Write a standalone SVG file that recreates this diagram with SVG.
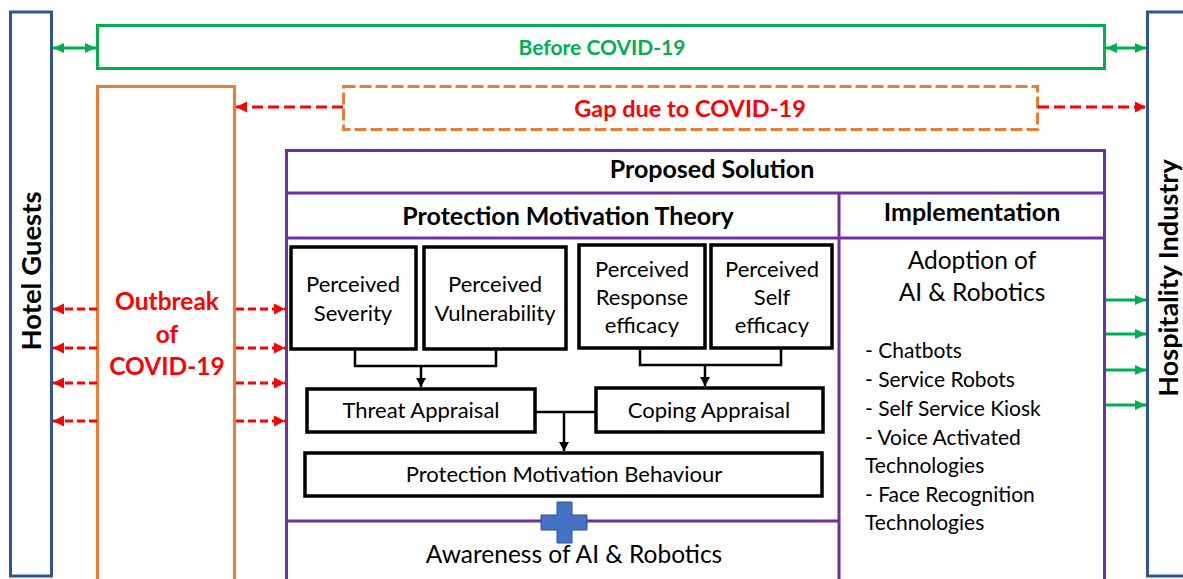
<svg xmlns="http://www.w3.org/2000/svg" width="1183" height="579" viewBox="0 0 1183 579">
  <style>
    text { font-family: Lato, "Liberation Sans", sans-serif; fill: #000; }
    .b { font-weight: bold; }
    .red { fill: #FF0000; }
    .grn { fill: #00B050; }
    .c { text-anchor: middle; }
    .box { fill: #fff; stroke: #000; stroke-width: 3.5; }
    .pur { fill: none; stroke: #7030A0; stroke-width: 3; }
    .redl { stroke: #FF0000; stroke-width: 3; fill: none; }
    .grnl { stroke: #00B050; stroke-width: 3; fill: none; }
    .blk { stroke: #000; stroke-width: 2.5; fill: none; }
    .t22 { font-size: 22px; }
    .t21 { font-size: 21px; }
    .hd { font-size: 25px; font-weight: bold; }
  </style>
  <defs>
    <marker id="ahRed" markerUnits="userSpaceOnUse" markerWidth="12" markerHeight="12" refX="11" refY="6" orient="auto-start-reverse">
      <path d="M0,0.5 L11,6 L0,11.5 Z" fill="#FF0000"/>
    </marker>
    <marker id="ahGrn" markerUnits="userSpaceOnUse" markerWidth="12" markerHeight="12" refX="11" refY="6" orient="auto-start-reverse">
      <path d="M0,1 L11,6 L0,11 Z" fill="#00B050"/>
    </marker>
    <marker id="ahBlk" markerUnits="userSpaceOnUse" markerWidth="10" markerHeight="10" refX="9" refY="5" orient="auto">
      <path d="M0,0 L9,5 L0,10 Z" fill="#000"/>
    </marker>
  </defs>

  <!-- side actors -->
  <g id="hotel-guests">
    <rect x="10.5" y="12" width="41" height="564" fill="#fff" stroke="#2F5597" stroke-width="3"/>
    <text class="b c" font-size="27.5" transform="translate(40.5,271) rotate(-90)">Hotel Guests</text>
  </g>
  <g id="hospitality-industry">
    <rect x="1147.5" y="12" width="50" height="564" fill="#fff" stroke="#2F5597" stroke-width="3"/>
    <text class="b c" font-size="27" transform="translate(1178,278) rotate(-90)">Hospitality Industry</text>
  </g>

  <!-- top band -->
  <g id="before-covid">
    <rect x="97.5" y="25.5" width="1007" height="43" fill="#fff" stroke="#00B050" stroke-width="3"/>
    <text class="b c grn" font-size="21" x="602" y="55">Before COVID-19</text>
  </g>
  <g id="gap-covid">
    <rect x="343.5" y="86.5" width="694" height="43" fill="#fff" stroke="#ED7D31" stroke-width="3" stroke-dasharray="12 4"/>
    <text class="b c red" font-size="23.5" x="690" y="117">Gap due to COVID-19</text>
  </g>
  <g id="outbreak">
    <rect x="97.5" y="86.5" width="137" height="520" fill="#fff" stroke="#ED7D31" stroke-width="3"/>
    <text class="b c red" font-size="24.5" x="167" y="310">Outbreak</text>
    <text class="b c red" font-size="24.5" x="167" y="343">of</text>
    <text class="b c red" font-size="24.5" x="167" y="375">COVID-19</text>
  </g>

  <!-- proposed solution frame -->
  <g id="proposed-solution">
    <rect class="pur" x="286.5" y="150.5" width="818" height="460"/>
    <line class="pur" x1="286" y1="193" x2="1105" y2="193"/>
    <line class="pur" x1="286" y1="238" x2="1105" y2="238"/>
    <line class="pur" x1="839" y1="193" x2="839" y2="580"/>
    <line class="pur" x1="286" y1="521" x2="839" y2="521"/>
    <text class="hd c" x="712" y="178">Proposed Solution</text>
  </g>
  <g id="pmt-header">
    <text class="hd c" x="568" y="225">Protection Motivation Theory</text>
  </g>
  <g id="implementation">
    <text class="hd c" x="972" y="221">Implementation</text>
    <text class="c" font-size="24.5" x="972" y="269">Adoption of</text>
    <text class="c" font-size="24.5" x="972" y="301">AI &amp; Robotics</text>
    <text class="t21" x="865" y="358">- Chatbots</text>
    <text class="t21" x="865" y="387">- Service Robots</text>
    <text class="t21" x="865" y="416">- Self Service Kiosk</text>
    <text class="t21" x="865" y="445">- Voice Activated</text>
    <text class="t21" x="865" y="473">Technologies</text>
    <text class="t21" x="865" y="502">- Face Recognition</text>
    <text class="t21" x="865" y="530">Technologies</text>
  </g>

  <!-- PMT constructs -->
  <g id="perceived-severity">
    <rect class="box" x="291" y="247" width="125" height="102"/>
    <text class="c t22" x="353" y="292">Perceived</text>
    <text class="c t22" x="353" y="321">Severity</text>
  </g>
  <g id="perceived-vulnerability">
    <rect class="box" x="424" y="247" width="142" height="102"/>
    <text class="c t22" x="495" y="292">Perceived</text>
    <text class="c t22" x="495" y="321">Vulnerability</text>
  </g>
  <g id="perceived-response-efficacy">
    <rect class="box" x="579" y="245" width="126" height="103"/>
    <text class="c t22" x="642" y="277">Perceived</text>
    <text class="c t22" x="642" y="305">Response</text>
    <text class="c t22" x="642" y="333">efficacy</text>
  </g>
  <g id="perceived-self-efficacy">
    <rect class="box" x="711" y="245" width="121" height="103"/>
    <text class="c t22" x="772" y="277">Perceived</text>
    <text class="c t22" x="772" y="305">Self</text>
    <text class="c t22" x="772" y="333">efficacy</text>
  </g>
  <g id="threat-appraisal">
    <rect class="box" x="307" y="389" width="228" height="43"/>
    <text class="c t22" x="421" y="418">Threat Appraisal</text>
  </g>
  <g id="coping-appraisal">
    <rect class="box" x="596" y="388" width="227" height="44"/>
    <text class="c t22" x="709" y="418">Coping Appraisal</text>
  </g>
  <g id="pm-behaviour">
    <rect class="box" x="305" y="453" width="517" height="43"/>
    <text class="c t22" x="564" y="482">Protection Motivation Behaviour</text>
  </g>
  <g id="awareness">
    <path d="M557,502 H572 V515 H587 V530 H572 V543 H557 V530 H541 V515 H557 Z" fill="#4472C4" stroke="#2F528F" stroke-width="1"/>
    <text class="c" font-size="24.5" x="574" y="563">Awareness of AI &amp; Robotics</text>
  </g>

  <!-- connectors -->
  <g id="connectors">
    <!-- Hotel Guests <-> Before COVID-19 <-> Hospitality Industry -->
    <line class="grnl" x1="53" y1="48" x2="96" y2="48" marker-start="url(#ahGrn)" marker-end="url(#ahGrn)"/>
    <line class="grnl" x1="1106" y1="48" x2="1146" y2="48" marker-start="url(#ahGrn)" marker-end="url(#ahGrn)"/>
    <!-- gap arrows -->
    <line class="redl" x1="343" y1="107" x2="236" y2="107" stroke-dasharray="11 5" marker-end="url(#ahRed)"/>
    <line class="redl" x1="1038" y1="107" x2="1146" y2="107" stroke-dasharray="11 5" marker-end="url(#ahRed)"/>
    <!-- outbreak to hotel guests -->
    <line class="redl" x1="97" y1="309" x2="53" y2="309" stroke-dasharray="8 4" marker-end="url(#ahRed)"/>
    <line class="redl" x1="97" y1="348" x2="53" y2="348" stroke-dasharray="8 4" marker-end="url(#ahRed)"/>
    <line class="redl" x1="97" y1="383" x2="53" y2="383" stroke-dasharray="8 4" marker-end="url(#ahRed)"/>
    <line class="redl" x1="97" y1="421" x2="53" y2="421" stroke-dasharray="8 4" marker-end="url(#ahRed)"/>
    <!-- outbreak to proposed solution -->
    <line class="redl" x1="236" y1="309" x2="285" y2="309" stroke-dasharray="8 4" marker-end="url(#ahRed)"/>
    <line class="redl" x1="236" y1="348" x2="285" y2="348" stroke-dasharray="8 4" marker-end="url(#ahRed)"/>
    <line class="redl" x1="236" y1="383" x2="285" y2="383" stroke-dasharray="8 4" marker-end="url(#ahRed)"/>
    <line class="redl" x1="236" y1="421" x2="285" y2="421" stroke-dasharray="8 4" marker-end="url(#ahRed)"/>
    <!-- implementation to hospitality industry -->
    <line class="grnl" x1="1106" y1="300" x2="1146" y2="300" marker-end="url(#ahGrn)"/>
    <line class="grnl" x1="1106" y1="334" x2="1146" y2="334" marker-end="url(#ahGrn)"/>
    <line class="grnl" x1="1106" y1="370" x2="1146" y2="370" marker-end="url(#ahGrn)"/>
    <line class="grnl" x1="1106" y1="405" x2="1146" y2="405" marker-end="url(#ahGrn)"/>
    <!-- PMT flow -->
    <polyline class="blk" points="355,350 355,366 496,366 496,350"/>
    <line class="blk" x1="421" y1="366" x2="421" y2="387" marker-end="url(#ahBlk)"/>
    <polyline class="blk" points="640,349 640,365 781,365 781,349"/>
    <line class="blk" x1="705" y1="365" x2="705" y2="386" marker-end="url(#ahBlk)"/>
    <line class="blk" x1="535" y1="412" x2="596" y2="412"/>
    <line class="blk" x1="564" y1="412" x2="564" y2="451" marker-end="url(#ahBlk)"/>
  </g>
</svg>
